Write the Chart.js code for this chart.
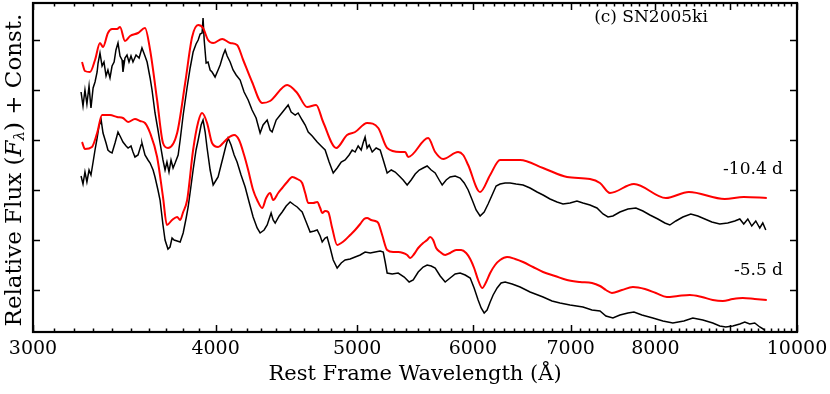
<!DOCTYPE html>
<html>
<head>
<meta charset="utf-8">
<script src="https://cdn.jsdelivr.net/npm/chart.js@4/dist/chart.umd.min.js"></script>
<style>
  html, body { margin: 0; padding: 0; background: #fff; }
  #wrap { width: 830px; height: 394px; }
</style>
</head>
<body>
<div id="wrap"><canvas id="spec"></canvas></div>
<script>
// x axis ticks (Angstrom, log scale)
const xTickValues = [3000, 4000, 5000, 6000, 7000, 8000, 9000, 10000];
const xTickLabels = ['3000', '4000', '5000', '6000', '7000', '8000', '', '10000'];
const yTickValues = [0, 1, 2, 3, 4, 5];

// -10.4 d model (red)
const waveModelEarly = [3241,3256,3282,3308,3334,3350,3376,3398,3425,3441,
  3468,3496,3540,3579,3608,3648,3682,3711,3765,3813,
  3855,3892,3922,3953,3985,4042,4093,4138,4178,4237,
  4305,4359,4478,4549,4621,4687,4739,4838,4921,4984,
  5079,5169,5242,5351,5393,5419,5592,5654,5726,5862,
  5909,5956,6069,6166,6263,6464,6702,6960,7216,7331,
  7447,7734,8133,8433,8924,9195,9535];
const fluxModelEarly = [4.56,4.38,4.36,4.60,4.94,4.86,5.14,5.22,5.22,5.26,
  4.98,5.08,5.14,5.24,4.80,3.80,2.94,2.84,3.14,4.14,
  5.06,5.30,5.24,5.00,4.94,5.02,4.94,4.90,4.60,4.16,
  3.74,3.78,4.10,3.94,3.66,3.70,3.36,2.84,3.10,3.16,
  3.34,3.24,2.84,2.76,2.76,2.66,3.04,2.76,2.62,2.76,
  2.70,2.50,1.96,2.30,2.60,2.60,2.44,2.26,2.22,2.14,
  1.94,2.12,1.84,1.96,1.82,1.86,1.84];

// -10.4 d observed (black)
const waveObsEarly = [3236,3246,3256,3266,3277,3287,3298,3308,3319,3324,
  3334,3345,3355,3366,3376,3387,3398,3409,3419,3430,
  3441,3452,3457,3468,3479,3490,3501,3512,3529,3546,
  3562,3579,3591,3608,3619,3636,3653,3665,3682,3694,
  3705,3717,3729,3741,3753,3771,3783,3801,3825,3843,
  3861,3879,3892,3904,3916,3922,3929,3941,3953,3966,
  3978,3997,4016,4029,4048,4061,4074,4093,4112,4132,
  4158,4184,4211,4237,4264,4291,4311,4339,4359,4373,
  4401,4429,4457,4485,4506,4535,4556,4585,4607,4629,
  4658,4695,4724,4754,4784,4815,4845,4876,4906,4937,
  4961,4984,5008,5032,5047,5063,5079,5096,5120,5152,
  5185,5210,5242,5276,5309,5343,5376,5410,5444,5479,
  5514,5548,5583,5619,5654,5690,5717,5753,5789,5835,
  5881,5919,5956,5994,6031,6069,6108,6146,6185,6224,
  6263,6313,6363,6423,6494,6566,6639,6702,6776,6851,
  6916,6993,7070,7137,7216,7296,7366,7424,7482,7565,
  7661,7758,7844,7931,8031,8120,8184,8262,8354,8459,
  8553,8648,8744,8854,8966,9066,9138,9195,9254,9312,
  9371,9430,9475,9520];
const fluxObsEarly = [3.96,3.68,4.00,3.72,4.08,3.64,4.04,4.16,4.36,4.54,
  4.74,4.48,4.56,4.28,4.40,4.24,4.48,4.56,4.80,4.94,
  4.68,4.60,4.36,4.64,4.70,4.56,4.68,4.56,4.70,4.64,
  4.84,4.68,4.56,4.24,4.00,3.54,3.20,2.94,2.60,2.40,
  2.56,2.36,2.60,2.44,2.54,2.70,3.00,3.50,4.06,4.44,
  4.76,4.92,5.00,5.12,5.14,5.44,5.00,4.54,4.56,4.40,
  4.36,4.26,4.40,4.50,4.70,4.80,4.68,4.56,4.40,4.30,
  4.20,3.96,3.80,3.60,3.44,3.14,3.30,3.40,3.20,3.16,
  3.40,3.50,3.60,3.70,3.56,3.50,3.54,3.40,3.30,3.16,
  3.08,2.96,2.88,2.80,2.56,2.34,2.44,2.56,2.60,2.70,
  2.80,2.76,2.88,2.80,2.94,3.06,2.84,2.90,2.76,2.84,
  2.80,2.60,2.34,2.40,2.36,2.28,2.20,2.10,2.20,2.32,
  2.40,2.44,2.48,2.40,2.34,2.20,2.10,2.20,2.26,2.28,
  2.24,2.14,2.00,1.80,1.60,1.48,1.56,1.72,1.90,2.08,
  2.12,2.14,2.14,2.12,2.10,2.04,1.96,1.90,1.82,1.76,
  1.72,1.74,1.78,1.74,1.70,1.64,1.52,1.46,1.48,1.56,
  1.62,1.64,1.58,1.50,1.42,1.34,1.30,1.38,1.46,1.52,
  1.48,1.42,1.36,1.32,1.34,1.38,1.42,1.32,1.42,1.28,
  1.38,1.24,1.34,1.20];

// -5.5 d model (red)
const waveModelLate = [3241,3256,3292,3319,3345,3387,3425,3457,3485,3523,
  3551,3579,3608,3648,3682,3705,3735,3765,3783,3801,
  3825,3861,3892,3916,3947,3978,4016,4048,4080,4119,
  4151,4184,4211,4244,4271,4305,4332,4359,4380,4415,
  4443,4478,4514,4549,4585,4607,4629,4665,4695,4717,
  4732,4754,4777,4807,4845,4876,4906,4945,4984,5024,
  5055,5079,5112,5144,5169,5201,5242,5292,5334,5376,
  5410,5436,5470,5505,5548,5583,5610,5636,5663,5699,
  5744,5789,5844,5890,5937,5975,6012,6050,6089,6127,
  6166,6214,6263,6333,6413,6494,6597,6702,6829,6960,
  7103,7239,7331,7400,7470,7589,7722,7869,8006,8146,
  8288,8446,8607,8757,8896,9038,9181,9356,9535];
const fluxModelLate = [2.96,2.82,2.86,3.14,3.50,3.50,3.46,3.44,3.36,3.42,
  3.38,3.34,3.14,2.66,1.86,1.30,1.40,1.46,1.40,1.56,
  1.80,2.80,3.36,3.54,3.34,2.94,2.86,2.94,3.04,3.10,
  3.00,2.70,2.40,2.00,1.80,1.64,1.84,1.94,1.80,1.94,
  2.04,2.16,2.26,2.22,2.14,1.94,1.74,1.74,1.76,1.64,
  1.54,1.58,1.56,1.24,0.90,0.94,1.00,1.10,1.20,1.32,
  1.42,1.44,1.40,1.38,1.34,1.10,0.80,0.76,0.76,0.74,
  0.70,0.64,0.72,0.84,0.94,1.00,1.06,1.00,0.84,0.76,
  0.70,0.74,0.80,0.80,0.74,0.62,0.44,0.20,0.04,0.16,
  0.34,0.50,0.60,0.66,0.62,0.56,0.46,0.36,0.28,0.20,
  0.16,0.14,0.08,0.00,-0.06,0.00,0.06,0.02,-0.06,-0.14,
  -0.12,-0.10,-0.14,-0.20,-0.22,-0.18,-0.16,-0.18,-0.20];

// -5.5 d observed (black)
const waveObsLate = [3236,3246,3256,3266,3277,3287,3298,3308,3319,3329,
  3340,3350,3366,3376,3387,3398,3414,3430,3441,3457,
  3474,3485,3501,3512,3523,3540,3557,3562,3579,3596,
  3608,3625,3636,3653,3665,3682,3694,3711,3723,3735,
  3747,3765,3783,3801,3819,3831,3849,3861,3879,3892,
  3910,3922,3935,3947,3966,3985,4004,4016,4035,4048,
  4067,4080,4099,4119,4138,4164,4191,4217,4244,4271,
  4291,4318,4339,4366,4380,4394,4422,4443,4471,4499,
  4528,4549,4570,4585,4614,4643,4673,4695,4717,4732,
  4754,4769,4792,4815,4845,4876,4906,4945,4984,5024,
  5063,5104,5144,5185,5210,5226,5242,5284,5334,5385,
  5427,5462,5505,5548,5583,5619,5654,5699,5744,5789,
  5835,5881,5928,5975,6012,6050,6079,6108,6136,6166,
  6195,6234,6273,6313,6383,6464,6566,6702,6797,6883,
  6993,7137,7239,7331,7400,7482,7565,7661,7734,7832,
  7968,8095,8223,8367,8486,8621,8757,8854,8938,9038,
  9138,9210,9283,9356,9430,9505];
const fluxObsLate = [2.28,2.12,2.36,2.16,2.40,2.30,2.56,2.80,3.04,3.28,
  3.40,3.14,2.94,2.80,2.76,2.74,2.94,3.16,3.08,2.96,
  2.88,2.84,2.88,2.76,2.66,2.70,2.90,2.94,2.70,2.60,
  2.54,2.40,2.26,2.00,1.80,1.30,1.00,0.82,0.86,1.04,
  1.00,0.98,0.96,1.14,1.44,1.66,2.10,2.40,2.80,3.00,
  3.30,3.40,3.16,2.84,2.40,2.10,2.20,2.26,2.50,2.66,
  2.90,3.04,2.90,2.70,2.56,2.30,2.06,1.76,1.46,1.24,
  1.14,1.20,1.30,1.54,1.40,1.34,1.48,1.56,1.68,1.76,
  1.70,1.66,1.60,1.56,1.36,1.16,1.18,1.20,1.08,0.96,
  1.04,1.06,0.84,0.60,0.44,0.54,0.60,0.62,0.66,0.70,
  0.76,0.74,0.76,0.78,0.76,0.56,0.34,0.32,0.34,0.26,
  0.16,0.20,0.36,0.46,0.50,0.48,0.44,0.28,0.16,0.24,
  0.32,0.34,0.30,0.24,0.04,-0.20,-0.36,-0.46,-0.40,-0.24,
  -0.10,0.04,0.14,0.16,0.12,0.06,-0.04,-0.14,-0.22,-0.26,
  -0.30,-0.34,-0.40,-0.42,-0.52,-0.56,-0.50,-0.46,-0.44,-0.50,
  -0.56,-0.62,-0.66,-0.62,-0.56,-0.60,-0.66,-0.72,-0.74,-0.72,
  -0.68,-0.64,-0.68,-0.66,-0.74,-0.80];

const SERIF = '"DejaVu Serif", "Liberation Serif", serif';

// 把波长和流量拼成点
function toPoints(wave, flux) {
    const n = Math.min(wave.length, flux.length);
    const pts = [];
    for (let i = 0; i < n; i++) pts.push({ x: wave[i], y: flux[i] });
    return pts;
}

function modelSet(wave, flux) {
    return {
        data: toPoints(wave, flux),
        borderColor: 'rgb(255,0,0)',
        borderWidth: 2,
        pointRadius: 0,
        cubicInterpolationMode: 'monotone',
        fill: false
    };
}

function obsSet(wave, flux) {
    return {
        data: toPoints(wave, flux),
        borderColor: '#000',
        borderWidth: 1.5,
        pointRadius: 0,
        tension: 0,
        fill: false
    };
}

// 边框、内向刻度、文字标注
const framePlugin = {
    id: 'frame',
    afterDraw(chart) {
        const { ctx, chartArea: a, scales: { x, y } } = chart;
        ctx.save();
        ctx.strokeStyle = '#000';
        ctx.lineWidth = 1.5;
        ctx.beginPath();
        for (let w = 3000; w <= 10000; w += 100) {
            const px = Math.round(x.getPixelForValue(w)) + 0.5;
            const len = w % 1000 === 0 ? 7 : 3.5;
            ctx.moveTo(px, a.bottom); ctx.lineTo(px, a.bottom - len);
            ctx.moveTo(px, a.top); ctx.lineTo(px, a.top + len);
        }
        yTickValues.forEach(v => {
            const py = Math.round(y.getPixelForValue(v)) + 0.5;
            ctx.moveTo(a.left, py); ctx.lineTo(a.left + 7, py);
            ctx.moveTo(a.right, py); ctx.lineTo(a.right - 7, py);
        });
        ctx.stroke();

        ctx.lineWidth = 2.2;
        ctx.strokeRect(a.left, a.top, a.right - a.left, a.bottom - a.top);

        // 标注
        ctx.fillStyle = '#000';
        ctx.textBaseline = 'middle';
        ctx.font = '17px ' + SERIF;
        ctx.textAlign = 'center';
        ctx.fillText('(c) SN2005ki', 651, 18);
        ctx.textAlign = 'right';
        ctx.font = '17px ' + SERIF;
        ctx.fillText('-10.4 d', 783, 170);
        ctx.fillText('-5.5 d', 783, 271);

        // y 轴标题（F 斜体，λ 下标）
        const parts = [
            { t: 'Relative Flux (', f: '23px ' + SERIF, dy: 0 },
            { t: 'F', f: 'italic 23px ' + SERIF, dy: 0 },
            { t: 'λ', f: 'italic 15px ' + SERIF, dy: 5 },
            { t: ') + Const.', f: '23px ' + SERIF, dy: 0 }
        ];
        let total = 0;
        parts.forEach(p => { ctx.font = p.f; p.w = ctx.measureText(p.t).width; total += p.w; });
        ctx.translate(15, 170);
        ctx.rotate(-Math.PI / 2);
        ctx.textAlign = 'left';
        ctx.textBaseline = 'middle';
        let cx = -total / 2;
        parts.forEach(p => {
            ctx.font = p.f;
            ctx.fillText(p.t, cx, p.dy);
            cx += p.w;
        });
        ctx.restore();
    }
};

new Chart(document.getElementById('spec'), {
    type: 'line',
    data: {
        datasets: [
            modelSet(waveModelEarly, fluxModelEarly),
            modelSet(waveModelLate, fluxModelLate),
            obsSet(waveObsEarly, fluxObsEarly),
            obsSet(waveObsLate, fluxObsLate)
        ]
    },
    options: {
        responsive: true,
        maintainAspectRatio: false,
        animation: false,
        layout: { padding: { top: 3, right: 33, left: 0, bottom: 0 } },
        plugins: { legend: { display: false }, tooltip: { enabled: false } },
        scales: {
            x: {
                type: 'logarithmic',
                min: 3000,
                max: 10000,
                grid: { display: false, drawTicks: false },
                border: { display: false },
                afterBuildTicks: (s) => { s.ticks = xTickValues.map(v => ({ value: v })); },
                afterFit: (s) => {
                    s.height = 62;
                    s.paddingLeft = 0;
                    s.paddingRight = 0;
                },
                ticks: {
                    autoSkip: false,
                    maxRotation: 0,
                    padding: 6,
                    color: '#000',
                    font: { family: SERIF, size: 19 },
                    callback: (v) => xTickLabels[xTickValues.indexOf(v)] ?? ''
                },
                title: {
                    display: true,
                    text: 'Rest Frame Wavelength (Å)',
                    color: '#000',
                    font: { family: SERIF, size: 21 },
                    padding: { top: 0, bottom: 7 }
                }
            },
            y: {
                min: -0.84,
                max: 5.74,
                grid: { display: false, drawTicks: false },
                border: { display: false },
                afterFit: (s) => { s.width = 33; },
                ticks: { display: false }
            }
        }
    },
    plugins: [framePlugin]
});
</script>
</body>
</html>
